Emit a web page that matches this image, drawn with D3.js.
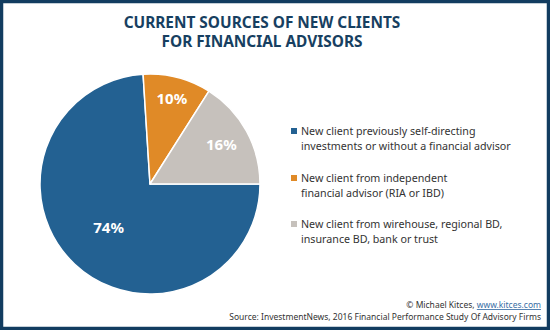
<!DOCTYPE html>
<html><head><meta charset="utf-8">
<script src="https://cdn.jsdelivr.net/npm/d3@7"></script>
<style>html,body{margin:0;padding:0;background:#fff;}</style>
</head><body>
<svg id="c" width="550" height="330"></svg>
<script>
const categories = [
  ["New client previously self-directing", "investments or without a financial advisor"],
  ["New client from independent", "financial advisor (RIA or IBD)"],
  ["New client from wirehouse, regional BD,", "insurance BD, bank or trust"]
];
const values = [74, 10, 16];
const colors = ["#236192", "#e08a27", "#c6c1bc"];
const titleLines = ["CURRENT SOURCES OF NEW CLIENTS", "FOR FINANCIAL ADVISORS"];
const footerLines = ["Source: InvestmentNews, 2016 Financial Performance Study Of Advisory Firms"];

const svg = d3.select("#c");
const font = "'Noto Sans', sans-serif";

// border
svg.append("rect").attr("x", 1.5).attr("y", 1.5).attr("width", 547).attr("height", 327)
  .attr("fill", "#fff").attr("stroke", "#123c60").attr("stroke-width", 3.5);

// title
svg.append("g").selectAll("text").data(titleLines).join("text")
  .attr("x", 262).attr("y", (d, i) => 28 + i * 19)
  .attr("text-anchor", "middle").attr("font-family", font).attr("font-weight", "bold")
  .attr("font-size", 15.4).attr("fill", "#173f61").text(d => d);

// pie
const cx = 150, cy = 184, r = 110;
const pie = d3.pie().sort(null).startAngle(Math.PI / 2).endAngle(Math.PI / 2 + 2 * Math.PI);
const arcs = pie(values);
const arc = d3.arc().innerRadius(0).outerRadius(r);
const g = svg.append("g").attr("transform", `translate(${cx},${cy})`);
g.selectAll("path").data(arcs).join("path")
  .attr("d", arc).attr("fill", (d, i) => colors[i])
  .attr("stroke", "#fff").attr("stroke-width", 1.5).attr("stroke-linejoin", "round");
const labelR = [0.55, 0.8, 0.74];
g.selectAll("text").data(arcs).join("text")
  .attr("transform", (d, i) => {
    const a = (d.startAngle + d.endAngle) / 2;
    const rr = r * labelR[i];
    return `translate(${Math.sin(a) * rr},${-Math.cos(a) * rr})`;
  })
  .attr("dy", "0.35em").attr("text-anchor", "middle")
  .attr("font-family", font).attr("font-weight", "bold").attr("font-size", 15)
  .attr("fill", "#fff").text(d => d.data + "%");

// legend
const lg = svg.append("g");
const ly = [135, 182, 228];
categories.forEach((lines, i) => {
  lg.append("rect").attr("x", 291).attr("y", ly[i] - 7).attr("width", 6).attr("height", 6)
    .attr("fill", colors[i]);
  lines.forEach((t, j) => {
    lg.append("text").attr("x", 301).attr("y", ly[i] + j * 14.5)
      .attr("font-family", font).attr("font-size", 10.7).attr("fill", "#333").text(t);
  });
});

// footer
const ft = svg.append("text").attr("x", 541).attr("y", 308).attr("text-anchor", "end")
  .attr("font-family", font).attr("font-size", 8.5).attr("fill", "#333");
ft.append("tspan").text("© Michael Kitces, ");
ft.append("tspan").attr("fill", "#3a6ea5").attr("text-decoration", "underline").text("www.kitces.com");
svg.append("text").attr("x", 541).attr("y", 319.5).attr("text-anchor", "end")
  .attr("font-family", font).attr("font-size", 8.5).attr("fill", "#333").text(footerLines[0]);
</script>
</body></html>
